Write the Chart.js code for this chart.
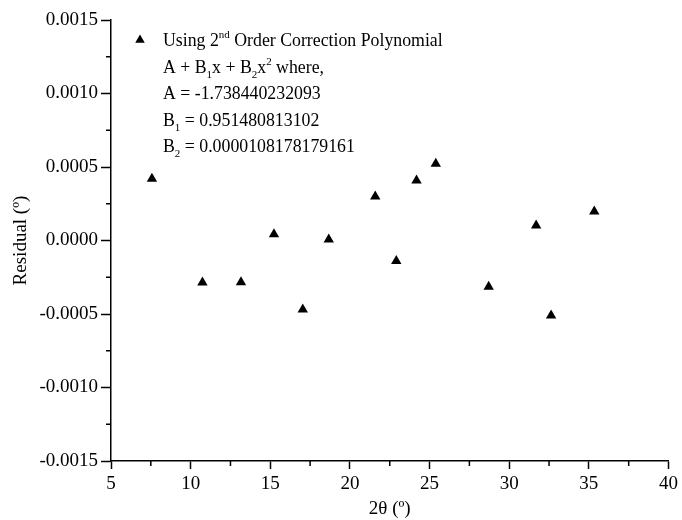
<!DOCTYPE html>
<html lang="en">
<head>
    <meta charset="UTF-8">
    <title>Residual vs 2θ</title>
    <script src="https://cdn.jsdelivr.net/npm/chart.js"></script>
    <style>
        html, body { margin: 0; padding: 0; background: #fff; }
        #wrap { width: 682px; height: 520px; }
    </style>
</head>
<body>
    <div id="wrap"><canvas id="residualChart" width="682" height="520"></canvas></div>

    <script>
        // measured points (2theta in degrees, residual in degrees)
        const twoTheta = [7.57, 10.74, 13.16, 15.23, 17.04, 18.67, 21.59, 22.91, 24.18, 25.39, 28.71, 31.69, 32.63, 35.34];
        const residual = [0.00042, -0.000286, -0.000284, 0.000043, -0.00047, 0.000007, 0.0003, -0.000139, 0.000408, 0.000522, -0.000314, 0.000102, -0.000511, 0.000197];

        // axis ranges and tick steps
        const xRange = [5, 40];
        const xMajorStep = 5;
        const yRange = [-0.0015, 0.0015];
        const yMajorStep = 0.0005;

        // legend text, split into runs: '' normal, 'sub', 'sup'
        const legendLines = [
            [['Using 2', ''], ['nd', 'sup'], [' Order Correction Polynomial', '']],
            [['A + B', ''], ['1', 'sub'], ['x + B', ''], ['2', 'sub'], ['x', ''], ['2', 'sup'], [' where,', '']],
            [['A = -1.738440232093', '']],
            [['B', ''], ['1', 'sub'], [' = 0.951480813102', '']],
            [['B', ''], ['2', 'sub'], [' = 0.0000108178179161', '']]
        ];

        const serif = 'Liberation Serif';
        const axisFont = { family: serif, size: 19 };

        function isMajor(value, step) {
            return Math.abs(Math.round(value / step) * step - value) < step * 1e-6;
        }

        // short minor tick marks drawn through the scales
        const minorTicks = {
            id: 'minorTicks',
            afterDraw(chart) {
                const ctx = chart.ctx;
                const xs = chart.scales.x, ys = chart.scales.y;
                ctx.save();
                ctx.strokeStyle = '#000';
                ctx.lineWidth = 1.5;
                ctx.beginPath();
                xs.ticks.forEach(t => {
                    if (!isMajor(t.value, xMajorStep)) {
                        const px = xs.getPixelForValue(t.value);
                        ctx.moveTo(px, xs.top);
                        ctx.lineTo(px, xs.top + 5);
                    }
                });
                ys.ticks.forEach(t => {
                    if (!isMajor(t.value, yMajorStep)) {
                        const py = ys.getPixelForValue(t.value);
                        ctx.moveTo(ys.right, py);
                        ctx.lineTo(ys.right - 5, py);
                    }
                });
                ctx.stroke();
                ctx.restore();
            }
        };

        // legend block with sub/superscripts
        const legendBlock = {
            id: 'legendBlock',
            afterDraw(chart) {
                const ctx = chart.ctx;
                const area = chart.chartArea;
                const textX = area.left + 52;
                const firstBase = area.top + 26;
                const lineGap = 26.5;
                ctx.save();
                ctx.fillStyle = '#000';
                ctx.textBaseline = 'alphabetic';
                // marker
                const mx = area.left + 29, my = area.top + 20, r = 5.5;
                ctx.beginPath();
                ctx.moveTo(mx, my - r);
                ctx.lineTo(mx + r * Math.sqrt(3) / 2, my + r / 2);
                ctx.lineTo(mx - r * Math.sqrt(3) / 2, my + r / 2);
                ctx.closePath();
                ctx.fill();
                legendLines.forEach((runs, i) => {
                    let x = textX;
                    const base = firstBase + i * lineGap;
                    runs.forEach(([txt, mode]) => {
                        let dy = 0;
                        if (mode === '') {
                            ctx.font = '17.8px "' + serif + '"';
                        } else {
                            ctx.font = '11px "' + serif + '"';
                            dy = mode === 'sub' ? 5 : -8;
                        }
                        ctx.fillText(txt, x, base + dy);
                        x += ctx.measureText(txt).width;
                    });
                });
                ctx.restore();
            }
        };

        const ctx = document.getElementById('residualChart').getContext('2d');
        new Chart(ctx, {
            type: 'scatter',
            data: {
                datasets: [{
                    label: 'Residual',
                    data: twoTheta.map((x, i) => ({ x: x, y: residual[i] })),
                    pointStyle: 'triangle',
                    pointRadius: 6,
                    pointHoverRadius: 6,
                    backgroundColor: '#000',
                    borderColor: '#000',
                    borderWidth: 0
                }]
            },
            options: {
                responsive: false,
                animation: false,
                layout: { padding: { top: 20, right: 11, left: 0, bottom: 0 } },
                plugins: {
                    legend: { display: false },
                    tooltip: { enabled: false }
                },
                scales: {
                    x: {
                        type: 'linear',
                        min: xRange[0],
                        max: xRange[1],
                        afterFit: s => { s.height = 59; },
                        ticks: {
                            stepSize: 2.5,
                            autoSkip: false,
                            maxRotation: 0,
                            padding: 4,
                            color: '#000',
                            font: axisFont,
                            callback: v => isMajor(v, xMajorStep) ? String(Math.round(v)) : ''
                        },
                        grid: {
                            drawOnChartArea: false,
                            tickLength: 8,
                            tickWidth: 1.5,
                            tickColor: c => isMajor(c.tick.value, xMajorStep) ? '#000' : 'rgba(0,0,0,0)'
                        },
                        border: { color: '#000', width: 1.5 },
                        title: { display: true, text: '2θ (º)', color: '#000', font: axisFont, padding: 0 }
                    },
                    y: {
                        type: 'linear',
                        min: yRange[0],
                        max: yRange[1],
                        afterFit: s => { s.width = 111; },
                        ticks: {
                            stepSize: 0.00025,
                            autoSkip: false,
                            padding: 3,
                            color: '#000',
                            font: axisFont,
                            callback: v => isMajor(v, yMajorStep) ? v.toFixed(4) : ''
                        },
                        grid: {
                            drawOnChartArea: false,
                            tickLength: 10,
                            tickWidth: 1.5,
                            tickColor: c => isMajor(c.tick.value, yMajorStep) ? '#000' : 'rgba(0,0,0,0)'
                        },
                        border: { color: '#000', width: 1.5 },
                        title: { display: true, text: 'Residual (º)', color: '#000', font: axisFont, padding: { top: 10, bottom: 0 } }
                    }
                }
            },
            plugins: [minorTicks, legendBlock]
        });
    </script>
</body>
</html>
